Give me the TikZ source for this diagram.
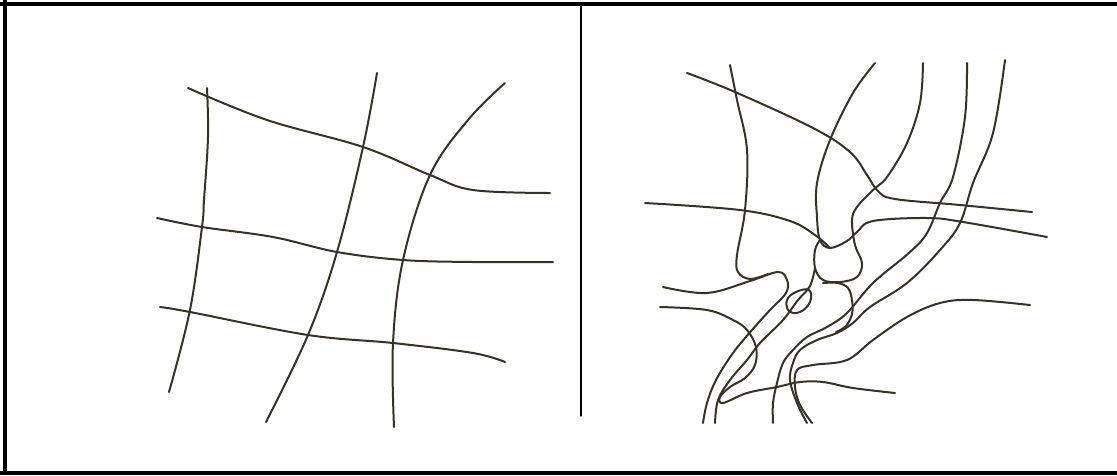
\documentclass[tikz,border=0pt]{standalone}
\definecolor{ink}{RGB}{55,50,38}
\begin{document}
\begin{tikzpicture}[x=1pt, y=-1pt, line cap=round, line join=round,
    pen/.style={draw=ink, line width=2pt},
    frame/.style={draw=black, line width=4pt, line cap=butt}]
    \useasboundingbox (0,0) rectangle (1117,475);
    % frame: top, left, bottom (no right edge), thin divider
    \draw[frame] (0,4) -- (1117,4);
    \draw[frame] (5,0) -- (5,475);
    \draw[frame] (0,473) -- (1117,473);
    \draw[line width=1.2pt] (581,6) -- (581,416);
    % left panel: regular grid
    \draw[pen] plot[smooth, tension=0.6] coordinates {(207,88) (208,137) (204,200) (202,227) (190,310) (169,392)};
    \draw[pen] plot[smooth, tension=0.6] coordinates {(377,73) (363,147) (337,252) (308,335) (266,422)};
    \draw[pen] plot[smooth, tension=0.6] coordinates {(505,83) (468,120) (430,175) (403,260) (393,343) (394,427)};
    \draw[pen] plot[smooth, tension=0.6] coordinates {(188,88) (267,120) (363,147) (430,175) (473,190) (550,193)};
    \draw[pen] plot[smooth, tension=0.6] coordinates {(157,218) (202,227) (273,237) (337,252) (403,260) (473,262) (553,262)};
    \draw[pen] plot[smooth, tension=0.6] coordinates {(160,307) (190,312) (308,335) (393,343) (473,353) (505,362)};
    % right panel: distorted grid
    \draw[pen] plot[smooth, tension=0.6] coordinates {(687,73) (735,92) (813,128) (850,152) (867,175) (878,191) (895,199) (960,205) (1032,212)};
    \draw[pen] plot[smooth, tension=0.6] coordinates {(730,65) (737,100) (747,150) (745,210) (737,255) (738,272) (750,279) (768,274)};
    \draw[pen] plot[smooth, tension=0.6] coordinates {(663,287) (707,293) (750,281) (778,272) (787,280) (786,293) (770,310) (752,330) (733,353) (716,380) (707,403) (703,423)};
    \draw[pen] plot[smooth, tension=0.6] coordinates {(875,63) (853,93) (830,140) (817,183) (817,217) (820,240) (830,248) (847,241) (857,232) (873,221) (927,218) (963,222) (1047,237)};
    \draw[pen] plot[smooth, tension=0.6] coordinates {(645,203) (740,210) (790,221) (815,235) (830,248)};
    \draw[pen] plot[smooth, tension=0.6] coordinates {(923,63) (920,103) (907,143) (887,177) (873,190) (857,207) (852,220) (855,245) (862,263) (857,277) (840,282) (823,280) (815,268) (815,250) (820,240)};
    \draw[pen] plot[smooth, tension=0.6] coordinates {(815,268) (810,286) (798,300) (783,320) (760,343) (747,360) (730,380) (718,400) (715,423)};
    \draw[pen] plot[smooth cycle, tension=0.7] coordinates {(787,300) (796,292) (809,290) (810,302) (800,312) (789,311)};
    \draw[pen] plot[smooth, tension=0.6] coordinates {(823,283) (838,283) (848,288) (852,300) (852,314) (846,326) (836,332)};
    \draw[pen] plot[smooth, tension=0.6] coordinates {(967,63) (965,117) (953,177) (940,203) (927,233) (910,252) (873,283) (847,313) (827,327) (807,337) (793,350) (783,363) (777,383) (773,403) (773,423)};
    \draw[pen] plot[smooth, tension=0.6] coordinates {(1005,60) (993,133) (973,183) (960,223) (940,250) (907,283) (870,307) (853,323) (837,333) (817,340) (800,350) (793,363) (790,380) (797,403) (807,423)};
    \draw[pen] plot[smooth, tension=0.6] coordinates {(1030,305) (973,300) (940,303) (907,317) (873,340) (847,360) (813,365) (797,370) (795,387) (800,405) (812,423)};
    \draw[pen] plot[smooth, tension=0.6] coordinates {(660,307) (707,310) (733,320) (747,330) (756,347) (755,365) (745,378) (730,387) (720,397) (723,403) (747,393) (777,387) (800,382) (823,382) (853,388) (895,393)};
\end{tikzpicture}
\end{document}
